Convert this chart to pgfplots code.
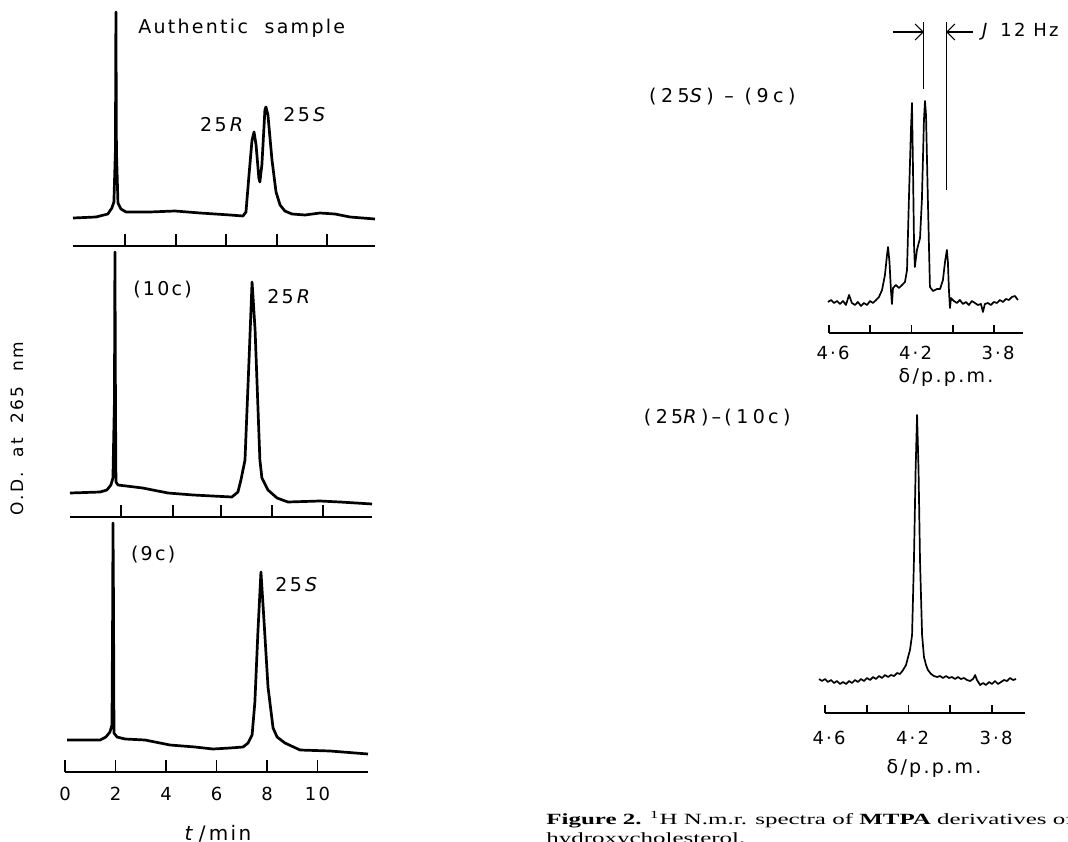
\documentclass[border=0pt]{standalone}
\usepackage{fontspec}
\setmainfont{DejaVu Sans}[LetterSpace=12]
\newfontfamily\capfont{Liberation Serif}[FakeStretch=1.6]
\usepackage{pgfplots}
\pgfplotsset{compat=1.18}
\usetikzlibrary{arrows.meta}

\newcommand\lab{\fontsize{9.5}{11}\selectfont}

\pgfplotsset{
  trace/.style={
    scale only axis, clip=false, anchor=south west,
    axis x line=bottom, axis y line=none,
    x axis line style={-, line width=1pt},
    tick align=inside, major tick length=6pt,
    xtick style={line width=0.9pt, black},
    ytick=\empty, ymin=0,
    /pgf/number format/assume math mode=true,
    xticklabel style={font=\fontsize{9}{10}\selectfont, yshift=-4pt},
    every axis plot post/.append style={black, line width=1.35pt, mark=none, line join=round},
  },
  nmr/.style={trace, x dir=reverse,
    xtick={3.8,4.0,4.2,4.4,4.6}, xticklabels={3·8,,4·2,,4·6},
    major tick length=4pt,
    xticklabel style={font=\fontsize{9}{10}\selectfont, xshift=2pt},
    every axis plot post/.append style={line width=0.85pt}},
}
\tikzset{lbl/.style={inner sep=0pt, font=\lab}}

\begin{document}
\begin{tikzpicture}
\path[use as bounding box, clip] (0,0) rectangle (534pt,420.5pt);

% chromatogram: authentic sample
\begin{axis}[trace, at={(36.5pt,297.5pt)}, width=151pt, height=120pt,
  xmin=0.16, xmax=12.12, ymax=240,
  xtick={2.22,4.24,6.22,8.24,10.22}, xticklabels={}]
\addplot coordinates {(0.16,28) (1.07,29) (1.54,32) (1.70,38) (1.78,44) (1.84,96)
  (1.86,234) (1.88,96) (1.94,43) (2.06,37) (2.26,34) (3.21,34) (4.20,35) (5.19,33)
  (6.38,31) (6.89,30) (7.01,34) (7.13,71) (7.25,106) (7.33,114) (7.41,101) (7.52,68)
  (7.56,64) (7.64,81) (7.76,136) (7.80,139) (7.88,131) (8.04,86) (8.20,54) (8.36,41)
  (8.55,35) (8.83,32) (9.35,31) (9.94,33) (10.53,32) (11.13,29) (12.12,27)};
\node[lbl, anchor=west] at (axis cs:2.73,218) {Authentic\ \ sample};
\node[lbl, anchor=east] at (axis cs:7.0,121) {25\,\textit{R}};
\node[lbl, anchor=west] at (axis cs:8.48,131) {25\,\textit{S}};
\end{axis}

% chromatogram: (10c)
\begin{axis}[trace, at={(35pt,162pt)}, width=151pt, height=135pt,
  xmin=0.12, xmax=12.08, ymax=270,
  xtick={2.14,4.2,6.1,8.12,10.14}, xticklabels={}]
\addplot coordinates {(0.12,24) (1.31,25) (1.58,27) (1.74,32) (1.82,39) (1.88,117)
  (1.90,265) (1.92,117) (1.94,35) (2.02,32) (3.0,29) (4.0,24) (5.0,22) (6.53,20)
  (6.77,25) (6.89,37) (7.05,57) (7.21,157) (7.33,235) (7.45,187) (7.64,57) (7.72,39)
  (7.96,27) (8.32,19) (8.75,15) (10.02,16) (10.81,15) (12.08,13)};
\node[lbl, anchor=west] at (axis cs:2.61,227) {(10c)};
\node[lbl, anchor=west] at (axis cs:7.92,220) {25\,\textit{R}};
\end{axis}

% chromatogram: (9c)
\begin{axis}[trace, at={(32.5pt,34.5pt)}, width=151.5pt, height=125pt,
  xmin=0, xmax=12, ymax=250,
  xtick={0,2,4,6,8,10}]
\addplot coordinates {(0.08,32) (1.39,32) (1.62,35) (1.78,40) (1.86,47) (1.89,172)
  (1.90,249) (1.92,172) (1.94,39) (2.06,35) (2.38,33) (3.17,32) (4.16,27) (5.15,25)
  (5.86,23) (6.53,24) (7.05,25) (7.25,29) (7.41,37) (7.52,70) (7.64,140) (7.76,200)
  (7.86,160) (8.04,85) (8.24,44) (8.40,35) (8.71,29) (9.31,22) (10.50,21) (12.0,18)};
\node[lbl, anchor=west] at (axis cs:2.60,217) {(9c)};
\node[lbl, anchor=west] at (axis cs:8.32,187) {25\,\textit{S}};
\end{axis}

% n.m.r.: (25S)-(9c)
\begin{axis}[nmr, at={(414.5pt,254pt)}, width=97pt, height=155.5pt,
  xmin=3.66, xmax=4.6, ymax=311, xticklabel style={yshift=1pt}]
\addplot coordinates {(4.605,31) (4.590,33) (4.576,30) (4.561,32) (4.547,29) (4.532,32)
  (4.518,28) (4.503,38) (4.489,30) (4.474,28) (4.460,31) (4.445,27) (4.431,30)
  (4.416,28) (4.401,32) (4.387,30) (4.372,33) (4.358,36) (4.343,43) (4.329,58)
  (4.319,78) (4.314,86) (4.307,71) (4.300,43) (4.295,29) (4.290,45) (4.276,48)
  (4.261,45) (4.246,48) (4.232,51) (4.222,63) (4.213,133) (4.203,203) (4.198,230)
  (4.193,163) (4.188,88) (4.184,66) (4.174,83) (4.159,95) (4.150,133) (4.140,213)
  (4.135,232) (4.130,218) (4.121,133) (4.111,46) (4.096,42) (4.077,44) (4.062,44)
  (4.048,53) (4.038,71) (4.029,83) (4.024,71) (4.019,43) (4.014,25) (4.009,35)
  (3.995,32) (3.980,30) (3.966,33) (3.951,29) (3.937,31) (3.922,28) (3.908,32)
  (3.893,30) (3.879,28) (3.864,29) (3.854,21) (3.845,29) (3.830,30) (3.816,28)
  (3.801,31) (3.786,30) (3.772,33) (3.757,31) (3.743,34) (3.728,33) (3.714,36)
  (3.699,37) (3.685,33)};
\draw[line width=0.5pt] (axis cs:4.140,244) -- (axis cs:4.140,311);
\draw[line width=0.5pt] (axis cs:4.033,143) -- (axis cs:4.033,311);
\draw[line width=0.6pt, -{Straight Barb[length=4pt]}] (axis cs:4.290,301) -- (axis cs:4.140,301);
\draw[line width=0.6pt, -{Straight Barb[length=4pt]}] (axis cs:3.903,301) -- (axis cs:4.033,301);
\node[anchor=west, font=\fontsize{9}{10}\selectfont, inner sep=0pt] at (axis cs:3.860,301) {\textit{J}\, 12 Hz};
\end{axis}

% n.m.r.: (25R)-(10c)
\begin{axis}[nmr, at={(412.5pt,64pt)}, width=100pt, height=149pt,
  xmin=3.642, xmax=4.6, ymax=298, xticklabel style={yshift=-1.5pt}]
\addplot coordinates {(4.629,34) (4.614,32) (4.600,34) (4.586,31) (4.571,33) (4.557,30)
  (4.543,32) (4.528,29) (4.514,31) (4.499,29) (4.485,32) (4.471,30) (4.456,33)
  (4.442,31) (4.428,34) (4.413,32) (4.399,35) (4.384,33) (4.370,36) (4.356,34)
  (4.341,37) (4.327,35) (4.313,38) (4.298,36) (4.284,38) (4.269,37) (4.255,40)
  (4.241,39) (4.226,43) (4.212,48) (4.202,56) (4.193,63) (4.183,78) (4.174,153)
  (4.166,243) (4.159,298) (4.152,243) (4.145,153) (4.135,78) (4.126,56) (4.116,48)
  (4.107,43) (4.092,39) (4.078,37) (4.063,36) (4.049,37) (4.035,35) (4.020,37)
  (4.006,35) (3.992,36) (3.977,34) (3.963,36) (3.949,34) (3.934,35) (3.920,33)
  (3.905,32) (3.891,34) (3.881,38) (3.872,33) (3.857,28) (3.843,30) (3.829,28)
  (3.814,31) (3.800,29) (3.786,32) (3.771,29) (3.757,31) (3.743,33) (3.728,32)
  (3.714,35) (3.699,33) (3.685,34)};
\end{axis}

% labels outside the axes
\node[rotate=90, font=\fontsize{8.5}{10}\selectfont] at (8.5pt,206pt) {O.\,D.\ \ at\ \ 265\ \ nm};
\node[anchor=base, font=\fontsize{10}{11}\selectfont] at (109pt,0.5pt) {\textit{t}\,/\,min};
\node[font=\fontsize{9.5}{10}\selectfont] at (473pt,232pt) {δ/p.p.m.};
\node[font=\fontsize{9.5}{10}\selectfont] at (467pt,36.5pt) {δ/p.p.m.};
\node[lbl, anchor=east] at (398pt,372pt) {\addfontfeature{LetterSpace=24}(25\textit{S})\ --\ (9c)};
\node[lbl, anchor=east] at (395.5pt,211.5pt) {\addfontfeature{LetterSpace=24}(2\,5\textit{R})\,--\,(10\,c)};
\node[anchor=base west, inner sep=0pt, font=\capfont\fontsize{7.8}{9}\selectfont] at (273pt,8.5pt)
  {\textbf{Figure 2.} \textsuperscript{1}H N.m.r. spectra of \textbf{MTPA} derivatives of 25-};
\node[anchor=base west, inner sep=0pt, font=\capfont\fontsize{7.8}{9}\selectfont] at (273pt,-1pt)
  {hydroxycholesterol.};
\end{tikzpicture}
\end{document}
